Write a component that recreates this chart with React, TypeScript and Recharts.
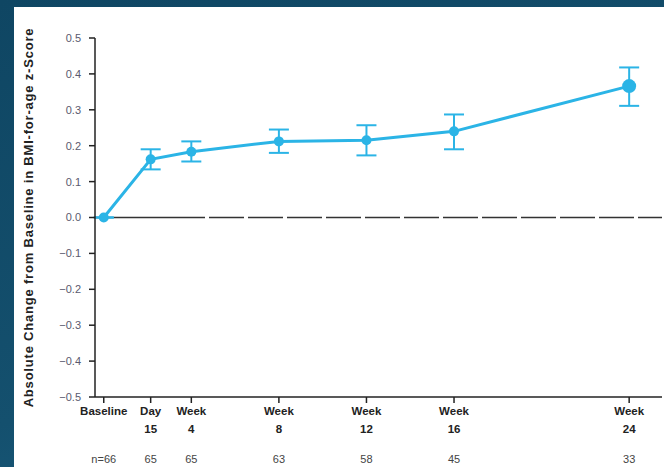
import React from 'react';
import { LineChart, Line, XAxis, YAxis, ErrorBar, ReferenceLine } from 'recharts';

// time points in weeks (Day 15 = 15/7 weeks)
const weeks = [0, 15 / 7, 4, 8, 12, 16, 24];
const tickTop = ['Baseline', 'Day', 'Week', 'Week', 'Week', 'Week', 'Week'];
const tickBottom = ['', '15', '4', '8', '12', '16', '24'];
const counts = ['n=66', '65', '65', '63', '58', '45', '33'];

const means = [0.0, 0.162, 0.183, 0.212, 0.215, 0.24, 0.366];
const lower = [0.0, 0.134, 0.156, 0.18, 0.173, 0.19, 0.311];
const upper = [0.0, 0.19, 0.212, 0.245, 0.257, 0.287, 0.418];

const yTicks = [0.5, 0.4, 0.3, 0.2, 0.1, 0, -0.1, -0.2, -0.3, -0.4, -0.5];

const BLUE = '#2bb4e6';

const data = weeks.map((w, i) => ({
  week: w,
  value: means[i],
  err: [means[i] - lower[i], upper[i] - means[i]],
}));

const fmt = (v: number) => (v < 0 ? `\u2212${Math.abs(v).toFixed(1)}` : v.toFixed(1));

const XTick = (props: any) => {
  const { x, y, index } = props;
  return (
    <g>
      <text x={x} y={y + 10} textAnchor="middle" fontSize={11.5} fontWeight="bold" fill="#222">
        {tickTop[index]}
      </text>
      <text x={x} y={y + 28} textAnchor="middle" fontSize={11.5} fontWeight="bold" fill="#222">
        {tickBottom[index]}
      </text>
      <text x={x} y={y + 58} textAnchor="middle" fontSize={11} fill="#444">
        {counts[index]}
      </text>
    </g>
  );
};

const Dot = (props: any) => {
  const { cx, cy, index } = props;
  const r = index === weeks.length - 1 ? 7 : 5;
  return <circle key={`dot-${index}`} cx={cx} cy={cy} r={r} fill={BLUE} />;
};

const App: React.FC = () => {
  return (
    <div
      style={{
        position: 'absolute',
        left: 0,
        top: 0,
        width: 664,
        height: 467,
        background: 'linear-gradient(160deg, #0f4663 0%, #14506e 60%, #1b6185 100%)',
        fontFamily: '"Liberation Sans", Arial, sans-serif',
        overflow: 'hidden',
      }}
    >
      <div style={{ position: 'absolute', left: 14, top: 7, width: 650, height: 460, background: '#fff' }}>
        <LineChart
          width={650}
          height={460}
          data={data}
          margin={{ top: 31, right: 2, left: 0, bottom: 10 }}
        >
          <XAxis
            dataKey="week"
            type="number"
            domain={[-0.4, 25.5]}
            ticks={weeks}
            interval={0}
            tick={<XTick />}
            tickLine={{ stroke: '#222', strokeWidth: 1.5 }}
            axisLine={{ stroke: '#222', strokeWidth: 1.5 }}
            tickSize={6}
            height={60}
          />
          <YAxis
            type="number"
            domain={[-0.5, 0.5]}
            ticks={yTicks}
            interval={0}
            tickFormatter={fmt}
            tick={{ fontSize: 11, fill: '#5a5a6e' }}
            tickLine={{ stroke: '#222', strokeWidth: 1.5 }}
            axisLine={{ stroke: '#222', strokeWidth: 1.5 }}
            tickSize={6}
            tickMargin={8}
            width={81}
            label={{
              value: 'Absolute Change from Baseline in BMI-for-age z-Score',
              angle: -90,
              position: 'insideLeft',
              offset: 14,
              style: { fontSize: 13, fontWeight: 'bold', fill: '#222', textAnchor: 'middle', letterSpacing: 0.8 },
            }}
          />
          <ReferenceLine
            y={0}
            stroke="#333"
            strokeWidth={1.5}
            strokeDasharray="110 4 35 4 35 4 35 4 35 4 35 4 35 4 35 4 35 4 35 4 35 4 35 4 35 4 35 4"
          />
          <Line
            type="linear"
            dataKey="value"
            stroke={BLUE}
            strokeWidth={3}
            dot={<Dot />}
            activeDot={false}
            isAnimationActive={false}
          >
            <ErrorBar dataKey="err" width={10} stroke={BLUE} strokeWidth={2} direction="y" />
          </Line>
        </LineChart>
      </div>
    </div>
  );
};

export default App;
